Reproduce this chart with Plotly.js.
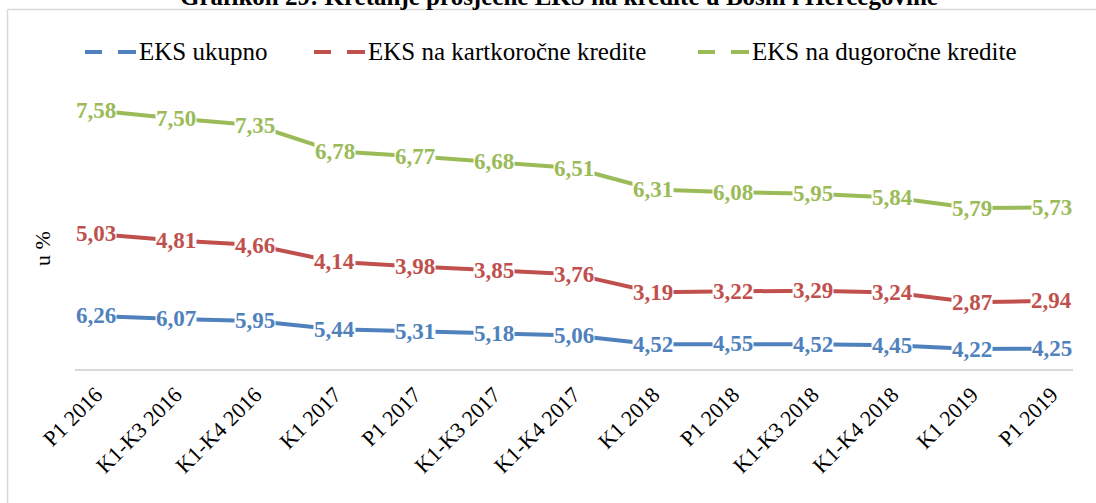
<!DOCTYPE html>
<html><head><meta charset="utf-8">
<script src="https://cdn.plot.ly/plotly-3.0.1.min.js"></script>
<style>html,body{margin:0;padding:0;background:#fff;overflow:hidden;} #chart{width:1096px;height:503px;}</style>
</head><body><div id="chart"></div>
<script>
// ---- data ----
const categories = ['P1 2016','K1-K3 2016','K1-K4 2016','K1 2017','P1 2017','K1-K3 2017','K1-K4 2017','K1 2018','P1 2018','K1-K3 2018','K1-K4 2018','K1 2019','P1 2019'];
const eksUkupno      = [6.26, 6.07, 5.95, 5.44, 5.31, 5.18, 5.06, 4.52, 4.55, 4.52, 4.45, 4.22, 4.25];
const eksKratkorocne = [5.03, 4.81, 4.66, 4.14, 3.98, 3.85, 3.76, 3.19, 3.22, 3.29, 3.24, 2.87, 2.94];
const eksDugorocne   = [7.58, 7.50, 7.35, 6.78, 6.77, 6.68, 6.51, 6.31, 6.08, 5.95, 5.84, 5.79, 5.73];
const seriesNames  = ['EKS ukupno', 'EKS na kartkoročne kredite', 'EKS na dugoročne kredite'];
const titleText = 'Grafikon 29: Kretanje prosječne EKS na kredite u Bosni i Hercegovine';
const yTitleText = 'u %';

// ---- styling / geometry ----
const seriesColors = ['#4f81bd', '#c0504d', '#9bbb59'];
const FONT = 'Liberation Serif';
const W = 1096, H = 503, L = 75, R = 23, T = 92, B = 134;
const plotW = W - L - R, plotH = H - T - B;
const px2x = px => (px - L) / plotW;
const py2y = py => (H - B - py) / plotH;

const allSeries = [eksUkupno, eksKratkorocne, eksDugorocne];
const fmt = v => v.toFixed(2).replace('.', ',');

// stacked lines (library does the stacking)
const traces = allSeries.map((vals, i) => ({
  type: 'scatter', mode: 'lines', x: categories, y: vals,
  stackgroup: 'eks', fill: 'none',
  line: {color: seriesColors[i], width: 4},
  name: seriesNames[i], showlegend: false, hoverinfo: 'skip'
}));

// data labels at the stacked positions
const annotations = [];
const cum = categories.map(() => 0);
allSeries.forEach((vals, i) => {
  vals.forEach((v, j) => {
    cum[j] += v;
    annotations.push({
      x: categories[j], y: cum[j], xref: 'x', yref: 'y',
      text: '<b>' + fmt(v) + '</b>', showarrow: false,
      xanchor: 'center', yanchor: 'middle',
      font: {family: FONT, size: 23, color: seriesColors[i]},
      bgcolor: '#ffffff', borderpad: 0
    });
  });
});

// y axis title
annotations.push({
  xref: 'paper', yref: 'paper', x: px2x(42), y: py2y(249),
  text: yTitleText, textangle: -90, showarrow: false,
  xanchor: 'center', yanchor: 'middle',
  font: {family: FONT, size: 22, color: '#000'}
});

// legend (drawn: dashed symbol + text)
const shapes = [];
const legendStarts = [85, 314, 698];
const legendY = py2y(52);
legendStarts.forEach((sx, i) => {
  [[sx, sx + 17], [sx + 33, sx + 51]].forEach(seg => {
    shapes.push({type: 'line', xref: 'paper', yref: 'paper',
      x0: px2x(seg[0]), x1: px2x(seg[1]), y0: legendY, y1: legendY,
      line: {color: seriesColors[i], width: 4}});
  });
  annotations.push({
    xref: 'paper', yref: 'paper', x: px2x(sx + 52), y: legendY,
    text: seriesNames[i], showarrow: false, xanchor: 'left', yanchor: 'middle',
    font: {family: FONT, size: 25, color: '#000'}
  });
});

// chart border (left + top visible)
shapes.push({type: 'line', xref: 'paper', yref: 'paper', x0: px2x(7.5), x1: px2x(7.5), y0: py2y(9.5), y1: py2y(520), line: {color: '#d9d9d9', width: 1.5}});
shapes.push({type: 'line', xref: 'paper', yref: 'paper', x0: px2x(7.5), x1: px2x(1110), y0: py2y(9.5), y1: py2y(9.5), line: {color: '#d9d9d9', width: 1.5}});

const layout = {
  width: W, height: H,
  margin: {l: L, r: R, t: T, b: B, pad: 0},
  paper_bgcolor: '#ffffff', plot_bgcolor: '#ffffff',
  font: {family: FONT},
  title: {
    text: '<b>' + titleText + '</b>',
    font: {family: FONT, size: 25, color: '#000'},
    xref: 'container', yref: 'container', x: 559 / W, xanchor: 'center',
    y: 1 - 5 / H, yanchor: 'bottom'
  },
  showlegend: false,
  xaxis: {
    type: 'category', showgrid: false, zeroline: false,
    showline: true, linecolor: '#d9d9d9', linewidth: 2,
    ticks: '', tickangle: -45, ticklabelstandoff: 2,
    tickfont: {family: FONT, size: 22, color: '#000'}
  },
  yaxis: {
    range: [3, 20], showgrid: false, zeroline: false, showline: false,
    showticklabels: false, ticks: ''
  },
  shapes: shapes,
  annotations: annotations
};

Plotly.newPlot('chart', traces, layout, {displayModeBar: false, staticPlot: true});
</script>
</body></html>
